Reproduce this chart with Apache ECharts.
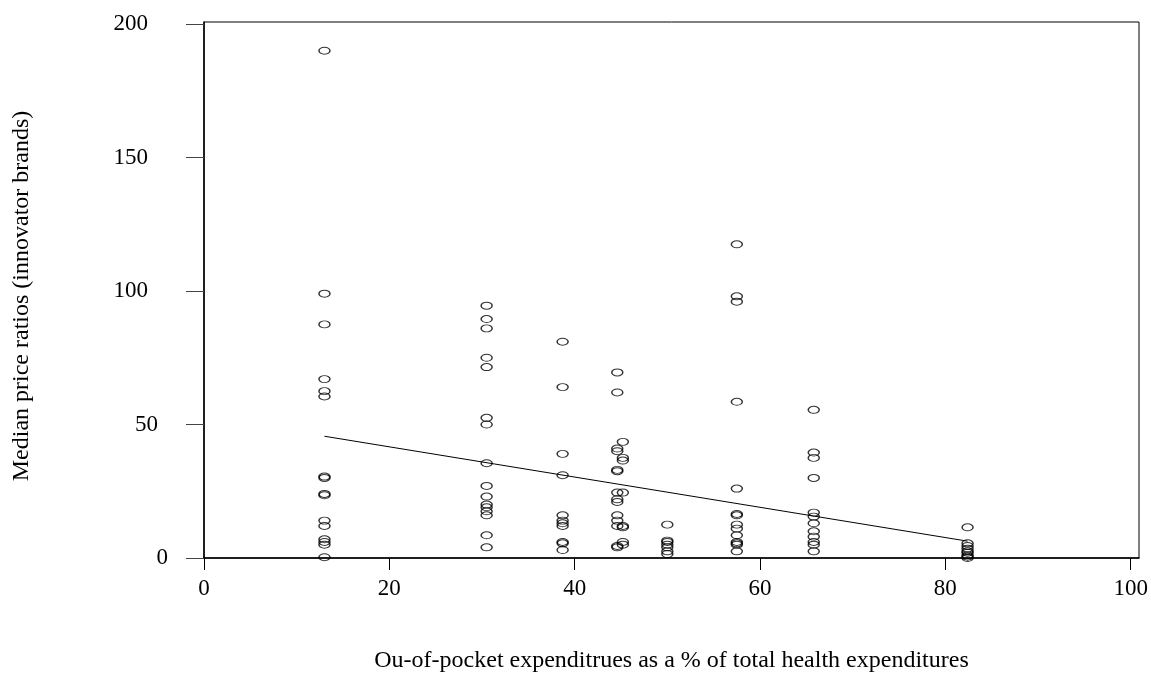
<!DOCTYPE html>
<html>
<head>
<meta charset="utf-8">
<script src="https://cdn.jsdelivr.net/npm/echarts@6/dist/echarts.min.js"></script>
<style>
  html, body { margin: 0; padding: 0; background: #fff; }
  #chart { width: 1151px; height: 677px; }
</style>
</head>
<body>
<div id="chart"></div>
<script>
// Out-of-pocket share (% of total health expenditure) for each country group
const outOfPocket = [13, 30.5, 38.7, 44.6, 45.2, 50, 57.5, 65.8, 82.4];

// Median price ratios (innovator brands) observed at each out-of-pocket level
const ratiosAt13 = [190, 99, 87.5, 67, 62.5, 60.5, 30.5, 30, 24, 23.5, 14, 12, 7, 6, 5, 0.3];
const ratiosAt30 = [94.5, 89.5, 86, 75, 71.5, 52.5, 50, 35.5, 27, 23, 20, 19, 17.5, 16, 8.5, 4];
const ratiosAt39 = [81, 64, 39, 31, 16, 14, 13, 12, 6, 5.5, 3];
const ratiosAt44 = [69.5, 62, 41, 40, 33, 32.5, 24.5, 22, 21, 16, 14, 12, 4.5, 4];
const ratiosAt45 = [43.5, 37.5, 36.5, 24.5, 12, 11.5, 6, 5];
const ratiosAt50 = [12.5, 6.5, 6, 5, 4, 2.5, 1.5];
const ratiosAt57 = [117.5, 98, 96, 58.5, 26, 16.5, 16, 12.5, 11, 8.5, 6, 5.5, 5, 2.5];
const ratiosAt66 = [55.5, 39.5, 37.5, 30, 17, 15.5, 13, 10, 8, 6, 5, 2.5];
const ratiosAt82 = [11.5, 5.5, 4.5, 3.5, 2.5, 2, 1, 0.5, 0];

const ratioGroups = [ratiosAt13, ratiosAt30, ratiosAt39, ratiosAt44, ratiosAt45,
                     ratiosAt50, ratiosAt57, ratiosAt66, ratiosAt82];

// Fitted line endpoints (x, y)
const fitX = [13, 82.4];
const fitY = [45.6, 6.3];

// Tick positions
const xTicks = [0, 20, 40, 60, 80, 100];
const yTicks = [0, 50, 100, 150, 200];

const points = [];
ratioGroups.forEach((vals, i) => {
  vals.forEach(v => points.push([outOfPocket[i], v]));
});

const serif = '"Liberation Serif", "DejaVu Serif", serif';

const chart = echarts.init(document.getElementById('chart'), null, { renderer: 'canvas' });
chart.setOption({
  animation: false,
  backgroundColor: '#fff',
  grid: {
    left: 204, right: 12, top: 22, bottom: 119,
    show: true, borderColor: '#000', borderWidth: 1,
    containLabel: false,
    outerBoundsMode: 'none'
  },
  xAxis: {
    type: 'value',
    min: 0, max: 100.9,
    splitLine: { show: false },
    axisLine: { show: true, onZero: false, lineStyle: { color: '#000', width: 1.5 } },
    axisTick: { show: true, customValues: xTicks, length: 12, lineStyle: { color: '#000' } },
    axisLabel: {
      customValues: xTicks, margin: 19,
      fontFamily: serif, fontSize: 23, color: '#000'
    },
    name: 'Ou-of-pocket expenditrues as a % of total health expenditures',
    nameLocation: 'middle', nameGap: 91,
    nameTextStyle: { fontFamily: serif, fontSize: 24, color: '#000' }
  },
  yAxis: {
    type: 'value',
    min: 0, max: 200.75,
    splitLine: { show: false },
    axisLine: { show: true, onZero: false, lineStyle: { color: '#000', width: 1.5 } },
    axisTick: { show: true, customValues: yTicks, length: 18, lineStyle: { color: '#444' } },
    axisLabel: {
      customValues: yTicks, margin: 36, align: 'right',
      fontFamily: serif, fontSize: 23, color: '#000',
      formatter: v => v >= 100 ? '{w|' + v + '}' : (v >= 50 ? '{m|' + v + '}' : '{n|' + v + '}'),
      rich: {
        w: { fontFamily: serif, fontSize: 23, color: '#000', padding: [0, 20, 0, 0] },
        m: { fontFamily: serif, fontSize: 23, color: '#000', padding: [0, 10, 0, 0] },
        n: { fontFamily: serif, fontSize: 23, color: '#000' }
      }
    },
    name: 'Median price ratios (innovator brands)',
    nameLocation: 'middle', nameGap: 170, nameRotate: 90,
    nameTextStyle: { fontFamily: serif, fontSize: 24, color: '#000', padding: [0, 12, 0, 0] }
  },
  series: [
    {
      type: 'scatter',
      data: points,
      symbol: 'circle',
      symbolSize: [11, 7],
      clip: false,
      itemStyle: { color: 'rgba(0,0,0,0)', borderColor: '#000', borderWidth: 1.2 },
      emphasis: { disabled: true }
    },
    {
      type: 'line',
      data: fitX.map((x, i) => [x, fitY[i]]),
      showSymbol: false,
      symbol: 'none',
      lineStyle: { color: '#000', width: 1 },
      emphasis: { disabled: true }
    }
  ]
});
</script>
</body>
</html>
